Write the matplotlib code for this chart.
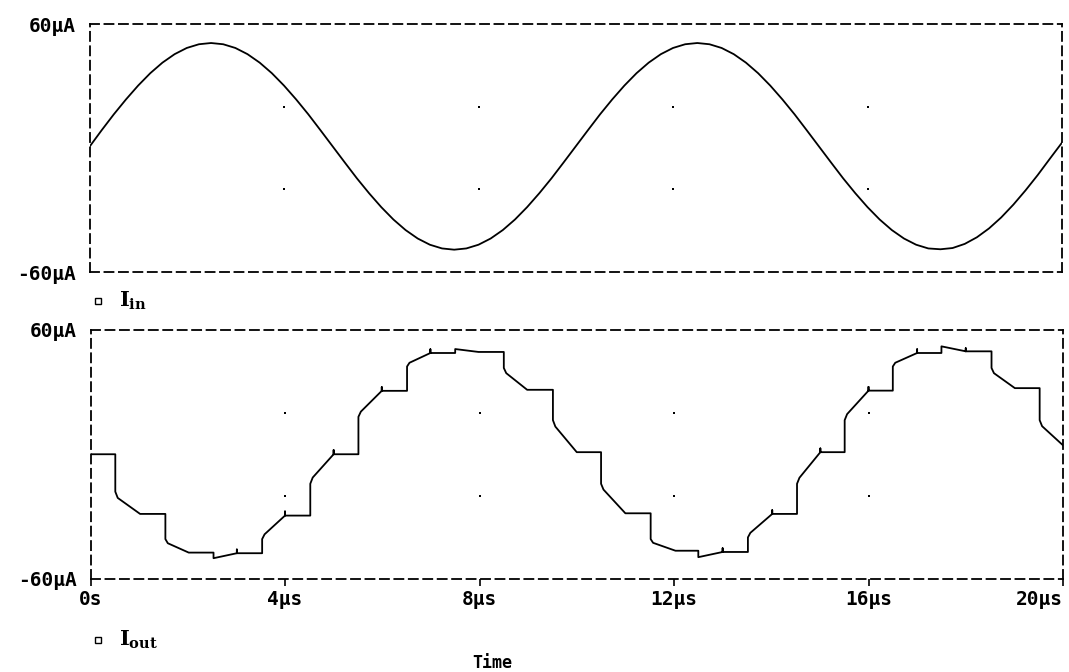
import numpy as np
import matplotlib.pyplot as plt
from matplotlib.lines import Line2D

plt.rcParams['mathtext.fontset'] = 'dejavuserif'

W, H = 1069, 672

# input current, sampled every 0.25 us (uA)
t_in = np.linspace(0, 20, 81)
i_in = [0.6, 8.6, 16.3, 23.5, 30.2, 36.2, 41.3, 45.4, 48.4, 50.2, 50.8,
        50.2, 48.4, 45.4, 41.3, 36.2, 30.2, 23.5, 16.3, 8.6, 0.8,
        -7.0, -14.7, -21.9, -28.6, -34.6, -39.7, -43.8, -46.8, -48.6, -49.2,
        -48.6, -46.8, -43.8, -39.7, -34.6, -28.6, -21.9, -14.7, -7.0, 0.8,
        8.6, 16.3, 23.5, 30.2, 36.2, 41.3, 45.4, 48.4, 50.2, 50.8,
        50.2, 48.4, 45.4, 41.3, 36.2, 30.2, 23.5, 16.3, 8.6, 0.8,
        -7.0, -14.7, -21.9, -28.6, -34.6, -39.7, -43.8, -46.8, -48.6, -49.0,
        -48.4, -46.4, -43.2, -38.9, -33.6, -27.4, -20.5, -13.1, -5.2, 2.6]

# output current breakpoints (us, uA): hold, jump, slew, small glitches
t_out = [0.00, 0.51,
         0.51, 0.56, 1.02,
         1.54, 1.54, 1.59, 2.02,
         2.53, 2.53, 3.01, 3.01, 3.01,
         3.53, 3.53, 3.58, 4.00, 4.00, 4.00,
         4.52, 4.52, 4.57, 5.00, 5.00, 5.00,
         5.51, 5.51, 5.56, 5.99, 5.99, 5.99,
         6.51, 6.51, 6.56, 6.99, 6.99, 6.99,
         7.50, 7.50, 7.98,
         8.50, 8.50, 8.55, 8.98,
         9.51, 9.51, 9.56, 10.00,
         10.50, 10.50, 10.55, 11.00,
         11.52, 11.52, 11.57, 12.03,
         12.50, 12.50, 13.00, 13.00, 13.00,
         13.52, 13.52, 13.57, 14.02, 14.02, 14.02,
         14.53, 14.53, 14.58, 15.01, 15.01, 15.01,
         15.51, 15.51, 15.56, 16.00, 16.00, 16.00,
         16.50, 16.50, 16.55, 17.00, 17.00, 17.00,
         17.50, 17.50, 18.00, 18.00, 18.00,
         18.53, 18.53, 18.58, 19.01,
         19.52, 19.52, 19.57, 20.00]
i_out = [0.0, 0.0,
         -18.0, -21.0, -28.7,
         -28.7, -40.8, -42.8, -47.3,
         -47.3, -50.0, -47.6, -45.8, -47.6,
         -47.6, -40.8, -38.5, -29.5, -27.5, -29.5,
         -29.5, -14.2, -11.2, 0.0, 2.0, 0.0,
         0.0, 18.0, 20.5, 30.5, 32.3, 30.5,
         30.5, 42.2, 44.0, 48.7, 50.5, 48.7,
         48.7, 50.6, 49.2,
         49.2, 41.5, 39.0, 31.0,
         31.0, 16.4, 13.3, 1.0,
         1.0, -14.2, -17.0, -28.4,
         -28.4, -40.8, -42.6, -46.4,
         -46.4, -49.5, -47.0, -45.2, -47.0,
         -47.0, -40.0, -37.8, -28.7, -26.9, -28.7,
         -28.7, -14.2, -11.3, 1.0, 2.8, 1.0,
         1.0, 16.4, 19.3, 30.6, 32.4, 30.6,
         30.6, 42.2, 44.0, 48.7, 50.5, 48.7,
         48.7, 51.9, 49.5, 51.0, 49.5,
         49.5, 41.5, 39.0, 31.8,
         31.8, 16.4, 13.5, 4.3]

x_ticks = [0, 4, 8, 12, 16, 20]
x_labels = ['0s', '4µs', '8µs', '12µs', '16µs', '20µs']
y_ticks = [-60, 60]
y_labels = ['-60µA', '60µA']
dot_t = [4, 8, 12, 16]
dot_i = [-20, 20]

MONO = 'DejaVu Sans Mono'
DASH = (0, (5, 3))


def box(left, top, right, bottom):
    return fig.add_axes([left / W, 1 - bottom / H, (right - left) / W, (bottom - top) / H])


def style_panel(ax, show_x):
    ax.set_xlim(0, 20)
    ax.set_ylim(-60, 60)
    for sp in ax.spines.values():
        sp.set_linestyle(DASH)
        sp.set_linewidth(1.3)
    ax.set_yticks(y_ticks, y_labels, fontfamily=MONO, fontweight='bold', fontsize=14)
    ax.tick_params(axis='y', length=0, pad=10)
    if show_x:
        ax.set_xticks(x_ticks, x_labels, fontfamily=MONO, fontweight='bold', fontsize=14)
        ax.tick_params(axis='x', direction='out', length=5, width=1.2, pad=3)
        # last label sits flush with the right border
        ax.get_xticklabels()[-1].set_horizontalalignment('right')
    else:
        ax.set_xticks([])
    gx, gy = np.meshgrid(dot_t, dot_i)
    ax.plot(gx.ravel(), gy.ravel(), ls='none', marker='s', ms=1.8, color='black', mew=0)


fig = plt.figure(figsize=(W / 100, H / 100), dpi=100)

ax1 = box(89.5, 24, 1062, 272)
style_panel(ax1, False)
ax1.plot(t_in, i_in, color='black', lw=1.3)

ax2 = box(90.5, 329.5, 1063, 579)
style_panel(ax2, True)
ax2.plot(t_out, i_out, color='black', lw=1.3)

# trace names under each panel
for y, name in [(301, r'$\mathbf{I}_{\mathbf{in}}$'), (640, r'$\mathbf{I}_{\mathbf{out}}$')]:
    fig.add_artist(Line2D([98 / W], [1 - y / H], marker='s', ms=4.5, mfc='none',
                          mec='black', mew=1.0, transform=fig.transFigure))
    fig.text(119 / W, 1 - y / H, name, fontsize=15, va='center', ha='left')

fig.text(492 / W, 1 - 663 / H, 'Time', fontfamily=MONO, fontweight='bold',
         fontsize=12, ha='center', va='center')

fig.savefig('out.png', dpi=100)
